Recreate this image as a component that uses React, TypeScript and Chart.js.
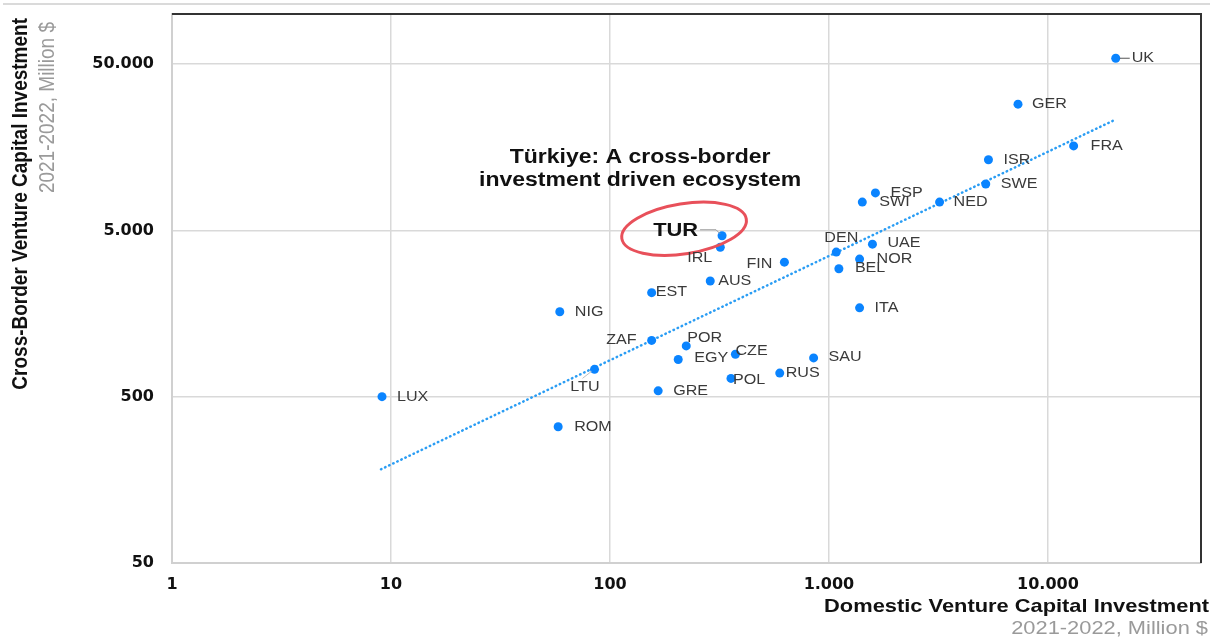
import React, { useEffect, useRef } from "react";
import { Chart, registerables } from "chart.js";

Chart.register(...registerables);

// ---------------- data ----------------
const countries = ["UK", "GER", "FRA", "ISR", "SWE", "ESP", "SWI", "NED", "DEN", "UAE", "NOR", "BEL", "ITA", "TUR", "IRL", "FIN", "AUS", "EST", "NIG", "ZAF", "POR", "EGY", "CZE", "LTU", "POL", "RUS", "SAU", "GRE", "ROM", "LUX"];
const domestic = [20400, 7300, 13100, 5350, 5200, 1630, 1420, 3200, 1080, 1580, 1380, 1110, 1380, 325, 319, 626, 287, 155, 59, 155, 223, 205, 374, 85, 357, 596, 851, 166, 58, 9.1];
const crossBorder = [54200, 28700, 16100, 13300, 9500, 8400, 7400, 7400, 3700, 4130, 3360, 2940, 1710, 4640, 3960, 3220, 2480, 2110, 1620, 1090, 1010, 837, 900, 730, 644, 693, 855, 542, 330, 500];

const trendX = [9, 20500];
const trendY = [183, 23300];

const xTickValues = [1, 10, 100, 1000, 10000];
const xTickLabels = ["1", "10", "100", "1.000", "10.000"];
const yTickValues = [50, 500, 5000, 50000];
const yTickLabels = ["50", "500", "5.000", "50.000"];

const highlightCountry = "TUR";
const annotationLines = ["Türkiye: A cross-border", "investment driven ecosystem"];
const yTitle = "Cross-Border Venture Capital Investment";
const xTitle = "Domestic Venture Capital Investment";
const unitSubtitle = "2021-2022, Million $";

// ---------------- label layout (pixel offsets from each point) ----------------
const labelDx = [16, 14, 17, 15, 15, 15, 17, 14, 5, 15, 17, 16, 15, -24, -8, -12, 8, 4, 15, -15, 1, 16, 0, 5, 2, 6, 15, 15, 16, 15];
const labelDy = [0, 0, 0, 0, 0, 0, 0, 0, -14, -1, 0, -1, 0, -5, 11, 2, 0, -1, 0, 0, -8, -1, -3, 18, 2, 0, -1, 0, 0, 0];
const labelAlign = ["left", "left", "left", "left", "left", "left", "left", "left", "center", "left", "left", "left", "left", "right", "right", "right", "left", "left", "left", "right", "left", "left", "left", "right", "left", "left", "left", "left", "left", "left"];

const FONT = "Arial, 'Liberation Sans', sans-serif";
const SX = 1.15; // horizontal stretch of the reference text

function drawText(ctx: CanvasRenderingContext2D, text: string, x: number, y: number, align: CanvasTextAlign, font: string, color: string, baseline: CanvasTextBaseline = "middle") {
  ctx.save();
  ctx.font = font;
  ctx.fillStyle = color;
  ctx.textAlign = align;
  ctx.textBaseline = baseline;
  ctx.translate(x, y);
  ctx.scale(SX, 1);
  ctx.fillText(text, 0, 0);
  ctx.restore();
}

const decorPlugin = {
  id: "decor",
  beforeDraw(chart: any) {
    const ctx = chart.ctx as CanvasRenderingContext2D;
    ctx.save();
    ctx.strokeStyle = "#dadada";
    ctx.lineWidth = 2;
    ctx.beginPath();
    ctx.moveTo(3, 4);
    ctx.lineTo(1210, 4);
    ctx.stroke();
    ctx.restore();
  },
  afterDraw(chart: any) {
    const ctx = chart.ctx as CanvasRenderingContext2D;
    const area = chart.chartArea;
    const meta = chart.getDatasetMeta(0);

    // dark top / right frame
    ctx.save();
    ctx.strokeStyle = "#333333";
    ctx.lineWidth = 2;
    ctx.beginPath();
    ctx.moveTo(area.left, area.top);
    ctx.lineTo(area.right, area.top);
    ctx.lineTo(area.right, area.bottom);
    ctx.stroke();
    ctx.restore();

    // point labels
    meta.data.forEach((pt: any, i: number) => {
      const name = countries[i];
      const px = pt.x;
      const py = pt.y;
      const isHi = name === highlightCountry;
      const font = isHi ? `bold 19px ${FONT}` : `14px ${FONT}`;
      const color = isHi ? "#111111" : "#3a3a3a";
      drawText(ctx, name, px + labelDx[i], py + labelDy[i], labelAlign[i] as CanvasTextAlign, font, color);

      ctx.save();
      ctx.lineWidth = 1;
      if (name === "UK") {
        ctx.strokeStyle = "#555555";
        ctx.beginPath();
        ctx.moveTo(px + 4, py);
        ctx.lineTo(px + 14, py);
        ctx.stroke();
      } else if (isHi) {
        ctx.strokeStyle = "#9a9a9a";
        ctx.beginPath();
        ctx.moveTo(px - 22, py - 6);
        ctx.lineTo(px - 6, py - 6);
        ctx.lineTo(px - 2, py - 2);
        ctx.stroke();
        // red ellipse around the highlighted label
        ctx.strokeStyle = "#e8505a";
        ctx.lineWidth = 3;
        ctx.beginPath();
        ctx.ellipse(px - 38, py - 7, 63, 25, (-9 * Math.PI) / 180, 0, Math.PI * 2);
        ctx.stroke();
        // annotation text above
        const ax = px - 82;
        drawText(ctx, annotationLines[0], ax, py - 73, "center", `bold 20px ${FONT}`, "#111111", "alphabetic");
        drawText(ctx, annotationLines[1], ax, py - 50, "center", `bold 20px ${FONT}`, "#111111", "alphabetic");
      } else if (name === "LTU") {
        ctx.strokeStyle = "#c0c0c0";
        ctx.beginPath();
        ctx.moveTo(px - 12, py + 9);
        ctx.lineTo(px - 3, py + 2);
        ctx.stroke();
      }
      ctx.restore();
    });

    // axis titles
    drawText(ctx, xTitle, 1209, 612, "right", `bold 19px ${FONT}`, "#111111", "alphabetic");
    drawText(ctx, unitSubtitle, 1208, 634, "right", `19px ${FONT}`, "#9a9a9a", "alphabetic");

    ctx.save();
    ctx.translate(27, 18);
    ctx.rotate(-Math.PI / 2);
    ctx.scale(1, SX);
    ctx.font = `bold 19px ${FONT}`;
    ctx.fillStyle = "#111111";
    ctx.textAlign = "right";
    ctx.textBaseline = "alphabetic";
    ctx.fillText(yTitle, 0, 0);
    ctx.restore();

    ctx.save();
    ctx.translate(54, 22);
    ctx.rotate(-Math.PI / 2);
    ctx.scale(1, SX);
    ctx.font = `19px ${FONT}`;
    ctx.fillStyle = "#9a9a9a";
    ctx.textAlign = "right";
    ctx.textBaseline = "alphabetic";
    ctx.fillText(unitSubtitle, 0, 0);
    ctx.restore();
  },
};

export default function App() {
  const canvasRef = useRef<HTMLCanvasElement | null>(null);

  useEffect(() => {
    if (!canvasRef.current) return;
    const points = domestic.map((x, i) => ({ x, y: crossBorder[i] }));
    const trend = trendX.map((x, i) => ({ x, y: trendY[i] }));
    const tickFont = { family: "'DejaVu Sans', sans-serif", size: 16, weight: "bold" as const };

    const chart = new Chart(canvasRef.current, {
      type: "scatter",
      data: {
        datasets: [
          {
            label: "Countries",
            data: points,
            backgroundColor: "#0a84ff",
            borderColor: "#0a84ff",
            pointRadius: 4.5,
            pointHoverRadius: 4.5,
            borderWidth: 0,
          },
          {
            label: "Trend",
            data: trend,
            showLine: true,
            pointRadius: 0,
            borderColor: "#2a9df4",
            borderWidth: 2.5,
            borderDash: [0.5, 4],
            borderCapStyle: "round",
            fill: false,
          },
        ],
      },
      options: {
        responsive: false,
        animation: false,
        devicePixelRatio: 1,
        layout: { padding: { left: 0, top: 14, right: 17, bottom: 0 } },
        plugins: {
          legend: { display: false },
          tooltip: { enabled: false },
        },
        scales: {
          x: {
            type: "logarithmic",
            min: 1,
            max: 50000,
            afterBuildTicks: (scale: any) => {
              scale.ticks = xTickValues.map((v) => ({ value: v }));
            },
            afterFit: (scale: any) => {
              scale.height = 74;
              scale.paddingLeft = 0;
              scale.paddingRight = 0;
            },
            ticks: {
              autoSkip: false,
              maxRotation: 0,
              padding: 12,
              color: "#111111",
              font: tickFont,
              callback: (v: any) => {
                const idx = xTickValues.indexOf(Number(v));
                return idx >= 0 ? xTickLabels[idx] : "";
              },
            },
            grid: { color: "#d9d9d9", lineWidth: 1.5, drawTicks: false },
            border: { display: true, color: "#d0d0d0", width: 2 },
          },
          y: {
            type: "logarithmic",
            min: 50,
            max: 100000,
            afterBuildTicks: (scale: any) => {
              scale.ticks = yTickValues.map((v) => ({ value: v }));
            },
            afterFit: (scale: any) => {
              scale.width = 172;
              scale.paddingTop = 0;
              scale.paddingBottom = 0;
            },
            ticks: {
              autoSkip: false,
              padding: 18,
              color: "#111111",
              font: tickFont,
              callback: (v: any) => {
                const idx = yTickValues.indexOf(Number(v));
                return idx >= 0 ? yTickLabels[idx] : "";
              },
            },
            grid: { color: "#d9d9d9", lineWidth: 1.5, drawTicks: false },
            border: { display: true, color: "#d0d0d0", width: 2 },
          },
        },
      },
      plugins: [decorPlugin],
    });
    return () => chart.destroy();
  }, []);

  return (
    <div style={{ position: "absolute", left: 0, top: 0, width: 1218, height: 637, background: "#ffffff" }}>
      <canvas ref={canvasRef} width={1218} height={637} style={{ display: "block" }} />
    </div>
  );
}
